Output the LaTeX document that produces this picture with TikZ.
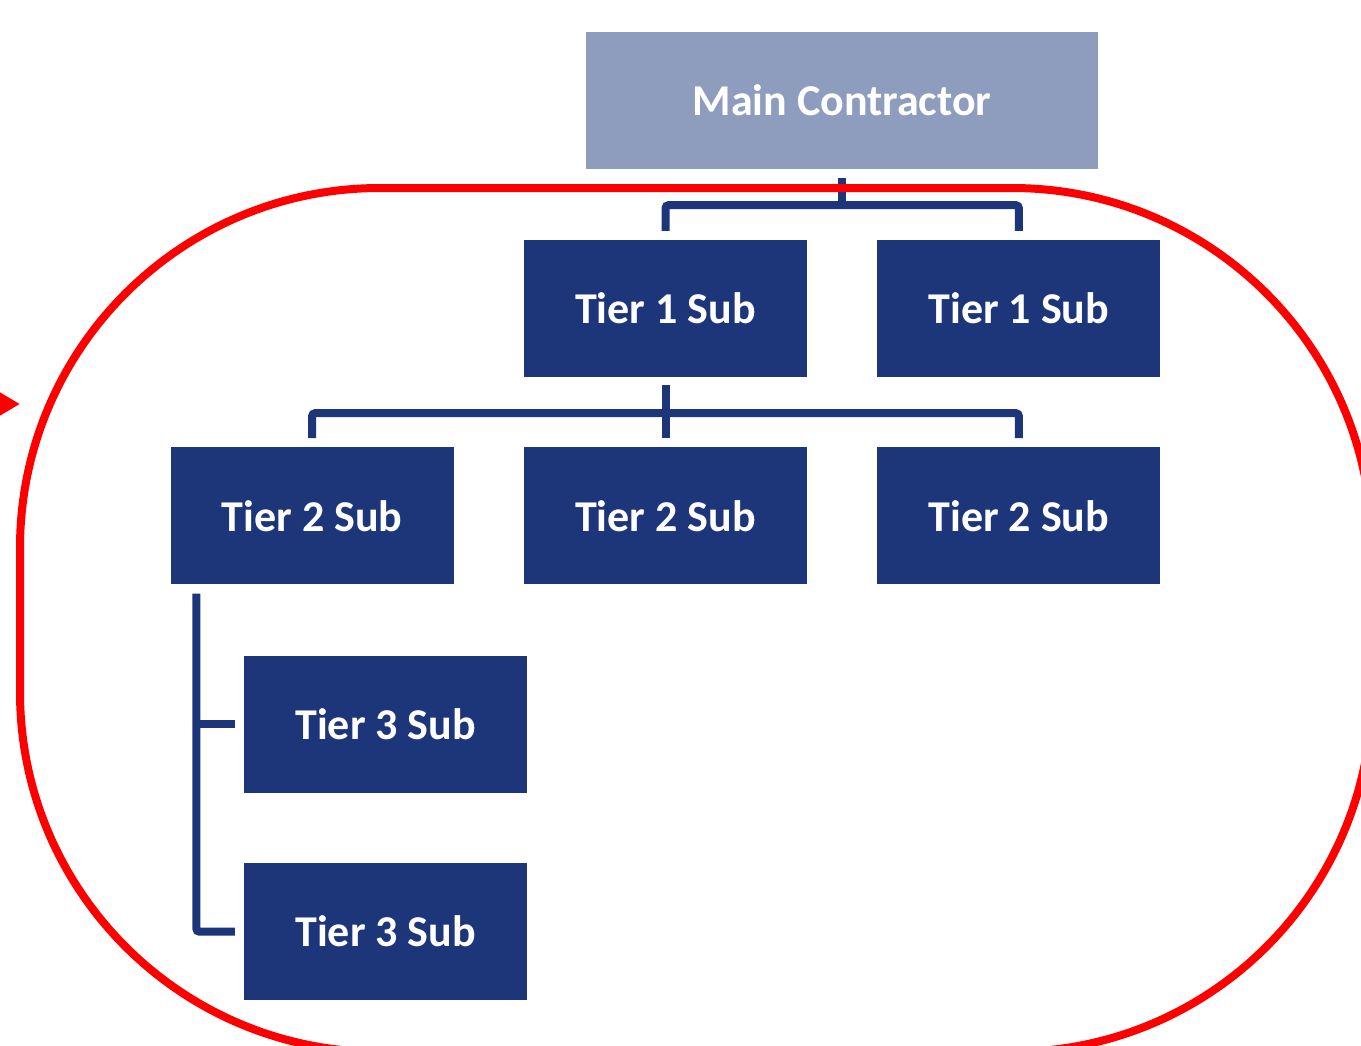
\documentclass[tikz,border=0pt]{standalone}
\usepackage{fontspec}
\setmainfont{Carlito}
\usetikzlibrary{arrows.meta, positioning, calc}

\definecolor{tierblue}{RGB}{29,54,121}
\definecolor{mainblue}{RGB}{142,157,190}

\begin{document}
\begin{tikzpicture}[x=1pt, y=-1pt,
  box/.style={fill=tierblue, text=white, inner sep=0pt,
              minimum width=283pt, minimum height=137pt,
              font=\fontsize{44}{52}\selectfont\bfseries},
  link/.style={draw=tierblue, line width=8pt, rounded corners=3pt}]

\useasboundingbox (0,0) rectangle (1361,1045);

% -----------------------------------------------------
%  MAIN CONTRACTOR
% -----------------------------------------------------
\node[box, fill=mainblue, minimum width=512pt] (main) at (842,100.5) {Main Contractor};

% -----------------------------------------------------
%  TIER 1
% -----------------------------------------------------
\node[box] (t1a) at (665.5,308.5) {Tier 1 Sub};
\node[box, right=70pt of t1a] (t1b) {Tier 1 Sub};

\draw[link] ([yshift=-9pt]main.south) -- ([yshift=-36pt]main.south);
\draw[link] ([yshift=9pt]t1a.north) |- ([yshift=-36pt]main.south) -| ([yshift=9pt]t1b.north);

% -----------------------------------------------------
%  TIER 2
% -----------------------------------------------------
\node[box, below=70pt of t1a] (t2b) {Tier 2 Sub};
\node[box, left=70pt of t2b] (t2a) {Tier 2 Sub};
\node[box, right=70pt of t2b] (t2c) {Tier 2 Sub};

\draw[link] ([yshift=9pt]t2a.north) |- ([yshift=-36pt]t1a.south) -| ([yshift=9pt]t2c.north);
\draw[link] ([yshift=-8pt]t1a.south) -- ([yshift=9pt]t2b.north);

% -----------------------------------------------------
%  TIER 3
% -----------------------------------------------------
\node[box, below=71pt of t2a, xshift=73.5pt] (t3a) {Tier 3 Sub};
\node[box, below=70pt of t3a] (t3b) {Tier 3 Sub};

\coordinate (spine) at ([xshift=26pt,yshift=-9pt]t2a.south west);
\draw[link] (spine) |- ([xshift=-9pt]t3b.west);
\draw[link] ([xshift=-9pt]t3a.west) -- (t3a.west -| spine);

% -----------------------------------------------------
%  RED FRAME AND POINTER
% -----------------------------------------------------
\draw[red, line width=8pt, rounded corners=360pt] (20,188) rectangle (1372,1052);

\coordinate (tail) at (-80,404);
\coordinate (tip) at (20,404);
\draw[red, line width=8pt, -{Triangle[length=30pt,width=33pt]}] (tail) -- (tip);

\end{tikzpicture}
\end{document}
